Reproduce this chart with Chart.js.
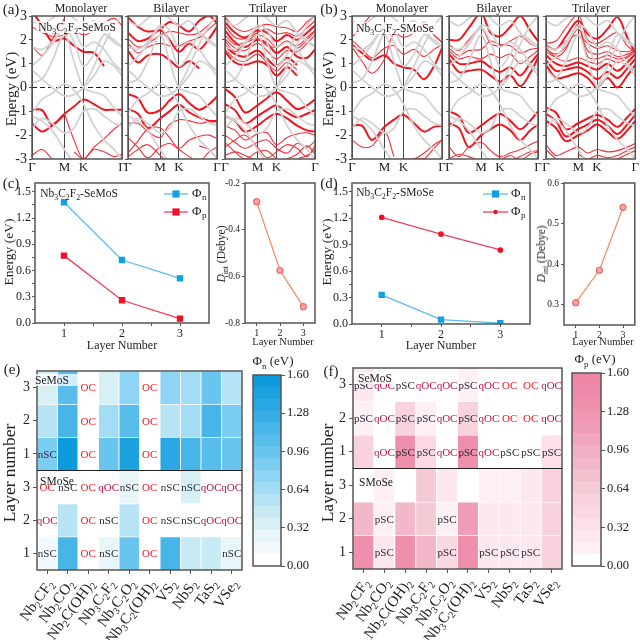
<!DOCTYPE html>
<html lang="en">
<head>
<script src="https://cdn.jsdelivr.net/npm/chart.js"></script>
<style>
  html, body { margin: 0; background: #fff; }
  #page { position: relative; width: 640px; height: 640px; overflow: hidden; font-family: 'Liberation Serif', serif; color: #222; }
  canvas { position: absolute; left: 0; top: 0; }
  .t { position: absolute; white-space: nowrap; transform: translate(-50%, -50%); z-index: 5; }
  .t sub { font-size: 68%; line-height: 0; }
</style>
</head>
<body>
<div id="page"></div>
<script>
// band path: Gamma, M, K, Gamma
const bandK = [0, 10, 20, 32.5, 42, 51.5, 62, 72, 82, 90];
const bandTicks = [0, 32.5, 51.5, 90];
const bandTickLabels = ['Γ', 'M', 'K', 'Γ'];
const energyTicks = [-3, -2, -1, 0, 1, 2, 3];

// substrate bands (grey), same in every band panel
const substrate = [
  [0.2, 0.35, 1.1, 2.2, 1.1, 0.0, -0.2, -0.35, -0.85, -1.2],
  [0.75, 0.35, 0.0, -0.35, -0.3, 0.0, 0.5, 1.1, 0.9, 0.5],
  [1.7, 1.6, 1.9, 2.6, 2.4, 1.7, 1.9, 1.6, 1.0, 0.7],
  [-1.1, -0.5, -0.25, 0.15, -0.1, -0.7, -1.6, -2.2, -2.6, -3],
  [2.8, 2.6, 2.9, 3.2, 2.9, 2.6, 2.8, 2.3, 1.9, 1.7],
  [-1.2, -1.4, -1.8, -2.6, -3.2, null, null, null, null, null],
  [0.9, 1.3, 1.8, 2.5, 1.9, 0.9, 1.4, 2.2, 2.0, 1.7],
  [-1.7, -1.3, -1.5, -1.9, -1.7, -1.0, -0.9, -1.2, -1.5, -1.6],
  [null, null, null, null, null, 0.0, 0.9, 1.8, 2.6, 3.0]
];

const a1Thick = [
  [3.2, 2.6, 1.95, 2.05, 1.75, 1.5, 1.45, 0.9, null, null],
  [-0.93, -0.95, -1.55, -1.1, -0.8, -0.5, -0.7, -0.93, -0.93, -0.93],
  [-1.5, -1.85, -1.6, -1.15, null, null, null, null, null, null]
];
const a1Thin = [
  [1.75, 1.35, 2.0, 2.9, null, null, null, null, null, null],
  [2.55, 2.3, 2.15, 2.2, 2.4, 2.2, 2.4, 2.7, 2.9, 2.6],
  [null, null, null, -1.1, -2.2, -3.0, -2.5, -2.15, -1.75, -1.5],
  [-2.85, -2.6, -3.0, null, null, null, null, null, null, null],
  [null, null, null, null, -2.7, -3.0, -2.6, -2.7, -2.9, -2.8]
];
const a2Thick = [
  [1.55, 1.05, 1.35, 1.4, 1.15, 0.85, 1.1, 0.8, null, null],
  [-0.28, -0.45, -1.05, -0.95, -0.55, -0.27, -0.65, -0.93, -0.7, -0.38],
  [-0.9, -1.1, -1.7, -1.3, -1.0, -0.72, -1.05, -1.25, -1.4, -1.4],
  [2.3, 1.95, 2.05, 2.4, 2.0, 1.5, 1.85, 1.6, 2.05, 2.55],
  [2.95, 2.55, 2.35, 2.45, 2.75, 2.6, 2.35, 2.8, 3.0, 2.7]
];
const a2Thin = [
  [1.85, 1.45, 1.7, 1.85, 1.75, 1.75, 1.95, 2.1, 2.45, 2.75],
  [2.05, 1.7, 1.85, 2.2, 2.35, 2.3, 2.2, 2.3, 2.65, 2.95],
  [-1.5, -1.5, -1.85, -2.1, -1.55, -1.35, -1.4, -1.5, -1.45, -1.45],
  [-2.75, -2.25, -1.75, -1.7, -2.1, -2.55, -2.2, -2.05, -2.0, -2.15],
  [-2.1, -2.5, -2.95, -2.5, -2.35, -2.6, -2.9, -3.1, -2.7, -2.5],
  [-2.9, -2.6, -2.4, -2.85, -3.2, null, null, -2.45, -2.6, -3.0]
];
const a3Thick = [
  [1.5, 1.05, 0.95, 1.1, 0.95, 0.5, 0.85, 0.5, null, null],
  [1.75, 1.4, 1.3, 1.55, 1.2, 0.9, 1.25, 0.95, null, null],
  [2.4, 1.9, 1.7, 2.0, 1.85, 1.45, 1.7, 1.3, 1.25, 1.6],
  [2.75, 2.3, 2.1, 2.4, 2.3, 1.95, 2.2, 2.0, 2.3, 2.6],
  [-0.05, -0.4, -1.05, -0.75, -0.45, -0.2, -0.55, -0.9, -0.75, -0.5],
  [-0.7, -0.95, -1.5, -1.2, -0.95, -0.75, -1.05, -1.25, -1.1, -0.95],
  [-1.2, -1.4, -1.85, -1.6, -1.3, -1.1, -1.3, -1.6, -1.8, -1.85]
];
const a3Thin = [
  [2.05, 1.65, 1.55, 1.85, 1.55, 1.2, 1.55, 1.5, 1.85, 2.2],
  [1.6, 1.2, 1.1, 1.4, 1.05, 0.7, 1.05, 0.75, null, null],
  [2.2, 1.8, 1.9, 2.2, 2.05, 1.7, 1.95, 1.65, 2.0, 2.35],
  [2.6, 2.1, 2.05, 2.3, 2.45, 2.25, 2.3, 2.15, 2.5, 2.8],
  [2.95, 2.5, 2.35, 2.55, 2.65, 2.55, 2.5, 2.35, 2.75, 3.0],
  [1.95, 1.5, 1.85, 2.05, 1.75, 1.7, 1.95, 1.75, 2.1, 2.4],
  [-1.6, -1.8, -2.2, -1.95, -1.9, -2.4, -2.1, -1.95, -1.9, -2.0],
  [-2.0, -2.3, -2.55, -2.3, -2.2, -2.55, -2.75, -2.35, -2.5, -2.25],
  [-2.5, -2.2, -2.0, -2.5, -2.95, -2.7, -2.4, -2.55, -2.9, -2.45],
  [-2.85, -2.7, -2.85, -3.1, null, null, -3.0, -2.8, -2.45, -2.8],
  [-2.3, -2.7, -3.0, -2.7, -2.65, -3.0, null, -3.0, -2.85, -2.6]
];
const b1Thick = [
  [1.8, 1.45, 1.15, 1.35, 1.0, 0.85, 0.75, 0.35, 0.9, 1.65],
  [-1.6, -1.6, -2.2, -1.65, -1.35, -1.15, -1.5, -1.85, -1.65, -1.6]
];
const b1Thin = [
  [2.0, 1.6, 1.25, 1.65, 1.75, 1.4, 1.6, 1.3, 1.6, 1.8],
  [1.7, 1.1, 0.6, 1.2, 2.3, 2.1, 2.3, 2.75, 2.2, 1.9],
  [-2.2, -2.5, -2.45, -1.85, -2.9, null, null, null, null, null],
  [null, null, null, null, null, -3.0, -3.0, -2.75, -2.4, -2.2],
  [null, null, null, null, null, -3.2, -3.0, -3.0, -2.55, -2.2],
  [2.1, 2.6, 3.1, null, null, null, null, null, 2.2, 1.9]
];
const b2Thick = [
  [1.2, 0.65, 0.7, 0.75, 0.5, 0.25, 0.5, 0.05, 0.6, 1.25],
  [1.4, 1.0, 1.0, 1.1, 0.85, 0.65, 0.85, 0.5, 1.0, 1.4],
  [-1.0, -1.2, -1.9, -1.6, -1.3, -1.1, -1.4, -1.75, -1.4, -1.0],
  [-1.5, -1.7, -2.5, -2.0, -1.75, -1.55, -1.8, -2.2, -1.8, -1.55],
  [2.0, 2.0, 2.5, 3.1, 2.3, 2.15, 2.55, 3.0, 2.4, 1.95]
];
const b2Thin = [
  [1.55, 1.2, 1.3, 1.2, 1.4, 1.25, 1.4, 1.0, 1.3, 1.55],
  [1.65, 1.35, 1.55, 1.6, 1.95, 1.8, 1.75, 1.45, 1.6, 1.65],
  [1.8, 1.55, 2.0, 2.5, 1.85, 1.75, 1.95, 2.15, 1.85, 1.7],
  [-2.5, -2.9, -2.5, -2.3, -2.65, -2.9, -2.75, -2.6, -2.4, -2.25],
  [-3.0, -2.8, -2.9, -3.1, null, null, -3.1, -2.9, -2.7, -2.65],
  [null, null, null, null, null, -3.05, -2.85, -3.05, -2.8, -2.7]
];
const b3Thick = [
  [0.95, 0.4, 0.45, 0.6, 0.4, 0.02, 0.4, 0.0, 0.5, 0.95],
  [1.15, 0.7, 0.75, 0.85, 0.65, 0.35, 0.65, 0.4, 0.8, 1.2],
  [1.35, 1.0, 0.9, 1.05, 0.9, 0.75, 1.0, 0.7, 1.05, 1.4],
  [-0.85, -1.05, -1.75, -1.5, -1.3, -1.15, -1.35, -1.65, -1.25, -0.9],
  [-1.1, -1.4, -2.05, -1.75, -1.55, -1.35, -1.6, -1.95, -1.55, -1.15],
  [-1.4, -1.7, -2.25, -2.0, -1.8, -1.55, -1.85, -2.15, -1.8, -1.4],
  [1.75, 1.6, 2.15, 2.8, 2.25, 2.05, 2.45, 2.95, 2.1, 1.45]
];
const b3Thin = [
  [1.5, 1.25, 1.1, 1.25, 1.1, 1.0, 1.2, 1.05, 1.25, 1.5],
  [1.6, 1.4, 1.7, 2.45, 1.55, 1.4, 1.5, 1.3, 1.4, 1.55],
  [1.7, 1.6, 1.95, 2.2, 1.85, 1.65, 1.75, 1.55, 1.5, 1.6],
  [1.85, 1.95, 2.5, 3.05, 2.0, 1.85, 2.1, 2.3, 1.75, 1.5],
  [1.65, 1.3, 1.6, 2.65, 1.3, 1.2, 1.35, 1.2, 1.3, 1.6],
  [-2.4, -2.85, -2.7, -2.5, -2.75, -2.6, -2.7, -2.65, -2.5, -2.35],
  [-2.6, -3.0, null, -2.8, -3.0, -2.85, -2.95, -2.85, -2.65, -2.5],
  [null, null, null, null, null, -3.05, -3.1, -3.0, -2.8, -2.65]
];

// work functions vs layer number
const layers = [1, 2, 3];
const layerMinor = [1, 1.5, 2, 2.5, 3];
const energyMinor = [0, 0.15, 0.3, 0.45, 0.6, 0.75, 0.9, 1.05, 1.2, 1.35, 1.5];
const cPhiN = [1.38, 0.72, 0.51];
const cPhiP = [0.77, 0.26, 0.05];
const cDint = [-0.28, -0.575, -0.73];
const dPhiN = [0.33, 0.05, 0.01];
const dPhiP = [1.21, 1.02, 0.84];
const dDint = [0.305, 0.385, 0.54];

// heat maps: columns are the substrates, digits get set as subscripts
const substrates = ['Nb2CF2', 'Nb2CO2', 'Nb2C(OH)2', 'Nb3C2F2', 'Nb3C2O2', 'Nb3C2(OH)2', 'VS2', 'NbS2', 'TaS2', 'VSe2'];
const layerTicks = ['1', '2', '3', '1', '2', '3'];
const colorTicks = [0, 0.32, 0.64, 0.96, 1.28, 1.6];
const colorSteps = [0.1, 0.1, 0.1, 0.1, 0.1, 0.1, 0.1, 0.1, 0.1, 0.1, 0.1, 0.1, 0.1, 0.1, 0.1, 0.1];
const blueRamp = ['#ffffff', '#f3fafd', '#e8f6fa', '#d8f0f5', '#c8eaf4', '#b6e4f5', '#a3dcf5', '#8fd4f4', '#7ccdf2', '#69c5ee', '#58bdeb', '#48b5e8', '#38aee5', '#2aa7e2', '#1ca1df', '#0f9bdb'];
const pinkRamp = ['#ffffff', '#fff0f6', '#fde8f0', '#fde0e8', '#fcd9e2', '#f8d2dc', '#f4cad5', '#f3c1ce', '#f2b8c9', '#f1afc3', '#f0a6bd', '#ef9db7', '#ef96b1', '#ee8fac', '#ee8aa9', '#ee86a6'];

// rows listed bottom to top: SMoSe 1,2,3 then SeMoS 1,2,3
const eValues = [
  [0.18, 1.15, null, 0.25, 0.95, null, 1.1, 0.48, 0.45, 0.3],
  [null, 0.6, null, null, 0.55, null, 0.08, 0.05, null, null],
  [null, 0.08, null, null, 0.28, null, 0.05, 0.35, null, null],
  [0.85, 1.5, null, 0.9, 1.45, null, 1.4, 1.2, 1.0, 0.9],
  [0.6, 1.2, null, 0.7, 1.0, null, 0.6, 0.7, 1.15, 0.8],
  [0.35, 1.0, null, 0.38, 0.78, null, 0.75, 0.7, 0.95, 0.6]
];
const eLabels = [
  ['nSC', '', 'OC', 'nSC', '', 'OC', '', '', '', 'nSC'],
  ['qOC', '', 'OC', 'nSC', '', 'OC', 'nSC', 'nSC', 'qOC', 'qOC'],
  ['OC', 'nSC', 'OC', 'qOC', 'nSC', 'OC', 'nSC', 'nSC', 'qOC', 'qOC'],
  ['nSC', '', 'OC', '', '', 'OC', '', '', '', ''],
  ['', '', 'OC', '', '', 'OC', '', '', '', ''],
  ['', '', 'OC', '', '', 'OC', '', '', '', '']
];
const fValues = [
  [1.3, 0.3, 1.35, 0.85, 0.45, 1.35, 0.3, 0.3, 0.3, 0.5],
  [0.85, 0.12, 0.85, 0.7, 0.12, 1.2, 0.2, 0.22, 0.3, 0.5],
  [0.08, 0.1, 0.08, 0.7, 0.2, null, 0.12, 0.18, 0.25, 0.55],
  [0.6, null, 1.4, 0.4, null, 1.4, null, null, null, 0.35],
  [0.15, null, 0.6, 0.1, null, 0.6, null, null, null, null],
  [0.25, null, null, null, null, 0.15, null, null, null, null]
];
const fLabels = [
  ['', 'pSC', '', '', 'pSC', '', 'pSC', 'pSC', 'pSC', ''],
  ['', 'pSC', '', '', 'pSC', '', '', '', '', ''],
  ['', '', '', '', '', '', '', '', '', ''],
  ['', 'qOC', 'pSC', 'pSC', 'qOC', 'pSC', 'qOC', 'pSC', 'pSC', 'pSC'],
  ['pSC', 'qOC', 'pSC', 'pSC', 'qOC', 'pSC', 'qOC', 'OC', 'OC', 'qOC'],
  ['pSC', 'qOC', 'pSC', 'qOC', 'qOC', 'pSC', 'qOC', 'OC', 'OC', 'qOC']
];

const page = document.getElementById('page');
const serif = 'Liberation Serif';
const axisColor = '#555';
const labelColors = { OC: '#f01522', qOC: '#b8124e', nSC: '#2a2a38', pSC: '#2a2a38' };

function addText(html, x, y, size, rot, extra) {
  const d = document.createElement('div');
  d.className = 't';
  d.innerHTML = html;
  d.style.left = x + 'px';
  d.style.top = y + 'px';
  d.style.fontSize = size + 'px';
  if (rot) d.style.transform = 'translate(-50%, -50%) rotate(' + rot + 'deg)';
  if (extra) d.style.cssText += extra;
  page.appendChild(d);
}

const framePlugin = {
  id: 'frame',
  afterDatasetsDraw(chart) {
    const a = chart.chartArea, c = chart.ctx;
    c.save();
    c.strokeStyle = axisColor;
    c.lineWidth = 1.5;
    c.strokeRect(a.left, a.top, a.width, a.height);
    c.restore();
  }
};

// canvas covering the page, padded so the plot area lands on box [l, t, r, b]
function newChart(box, yW, xH, yRight, config) {
  const cv = document.createElement('canvas');
  cv.width = 640; cv.height = 640;
  page.appendChild(cv);
  config.options = Object.assign({
    responsive: false, animation: false, events: [],
    layout: { padding: {
      left: yRight ? box[0] : box[0] - yW,
      right: yRight ? 640 - box[2] - yW : 640 - box[2],
      top: box[1],
      bottom: 640 - box[3] - xH
    } },
    plugins: { legend: { display: false }, tooltip: { enabled: false } }
  }, config.options);
  config.plugins = [framePlugin].concat(config.plugins || []);
  return new Chart(cv.getContext('2d'), config);
}

function toPoints(arr) { return arr.map((v, i) => ({ x: bandK[i], y: v })); }

function bandChart(box, showLabels, thick, thin) {
  const sets = [];
  substrate.forEach(b => sets.push({ data: toPoints(b), borderColor: '#d2d2d2', borderWidth: 1.8 }));
  thin.forEach(b => sets.push({ data: toPoints(b), borderColor: '#f4303a', borderWidth: 1.1 }));
  thick.forEach(b => sets.push({ data: toPoints(b), borderColor: '#f0141e', borderWidth: 2 }));
  sets.push({ data: toPoints(bandK.map(() => 0)), borderColor: '#222', borderWidth: 1, borderDash: [5, 3], tension: 0 });
  sets.forEach(s => { s.showLine = true; });
  newChart(box, 22, 16, false, {
    type: 'scatter',
    data: { datasets: sets },
    options: {
      elements: { point: { radius: 0 }, line: { tension: 0.35 } },
      scales: {
        x: {
          type: 'linear', min: 0, max: 90,
          afterBuildTicks: s => { s.ticks = bandTicks.map(v => ({ value: v })); },
          afterFit: s => { s.height = 16; },
          ticks: { autoSkip: false, padding: 1, color: '#222', font: { family: serif, size: 13 }, callback: (v, i) => bandTickLabels[i], maxRotation: 0 },
          grid: { color: '#444', lineWidth: 1, tickLength: 0 },
          border: { display: false }
        },
        y: {
          min: -3, max: 3,
          afterBuildTicks: s => { s.ticks = energyTicks.map(v => ({ value: v })); },
          afterFit: s => { s.width = 22; },
          ticks: { display: showLabels, padding: 2, color: '#222', font: { family: serif, size: 14 } },
          grid: { drawOnChartArea: false, color: axisColor, tickLength: 3 },
          border: { display: false }
        }
      }
    }
  });
}

function legendPlugin(ys, x0, x1, tx, names) {
  return {
    id: 'legendKeys',
    afterDatasetsDraw(chart) {
      const c = chart.ctx;
      chart.data.datasets.forEach((ds, i) => {
        c.save();
        c.strokeStyle = ds.borderColor;
        c.lineWidth = 1.3;
        c.beginPath(); c.moveTo(x0, ys[i]); c.lineTo(x1, ys[i]); c.stroke();
        c.fillStyle = ds.pointBackgroundColor;
        if (ds.pointStyle === 'rect') c.fillRect((x0 + x1) / 2 - ds.pointRadius, ys[i] - ds.pointRadius, ds.pointRadius * 2, ds.pointRadius * 2);
        else { c.beginPath(); c.arc((x0 + x1) / 2, ys[i], ds.pointRadius, 0, 7); c.fill(); }
        c.fillStyle = '#222';
        c.textBaseline = 'middle';
        c.font = '13px ' + serif;
        c.fillText('Φ', tx, ys[i]);
        c.font = '9px ' + serif;
        c.fillText(names[i], tx + 10, ys[i] + 4);
        c.restore();
      });
    }
  };
}

function workChart(box, phiN, phiP, pRadius, pStyle, legend) {
  newChart(box, 20, 14, false, {
    type: 'scatter',
    data: { datasets: [
      { data: layers.map((l, i) => ({ x: l, y: phiN[i] })), borderColor: '#5cbde9', pointBackgroundColor: '#12a0e2', pointBorderColor: '#12a0e2', pointStyle: 'rect', pointRadius: 3.6, showLine: true, borderWidth: 1.3 },
      { data: layers.map((l, i) => ({ x: l, y: phiP[i] })), borderColor: '#f0405a', pointBackgroundColor: '#ee1028', pointBorderColor: '#ee1028', pointStyle: pStyle, pointRadius: pRadius, showLine: true, borderWidth: 1.3 }
    ] },
    options: {
      scales: {
        x: {
          type: 'linear', min: 0.5, max: 3.5,
          afterBuildTicks: s => { s.ticks = layerMinor.map(v => ({ value: v })); },
          afterFit: s => { s.height = 14; },
          ticks: { padding: 1, autoSkip: false, color: '#222', font: { family: serif, size: 12 }, maxRotation: 0, callback: v => Number.isInteger(v) ? v : '' },
          grid: { drawOnChartArea: false, color: axisColor, tickLength: 3 },
          border: { display: false }
        },
        y: {
          min: 0, max: 1.6,
          afterBuildTicks: s => { s.ticks = energyMinor.map(v => ({ value: v })); },
          afterFit: s => { s.width = 20; },
          ticks: { padding: 1, autoSkip: false, color: '#222', font: { family: serif, size: 12 }, callback: (v, i) => i % 2 === 0 ? v.toFixed(1) : '' },
          grid: { drawOnChartArea: false, color: axisColor, tickLength: 3 },
          border: { display: false }
        }
      }
    },
    plugins: [legend]
  });
}

function dipoleChart(box, vals, yMin, yMax, yStep) {
  newChart(box, 20, 14, false, {
    type: 'scatter',
    data: { datasets: [{
      data: layers.map((l, i) => ({ x: l, y: vals[i] })),
      borderColor: '#f0885a', borderWidth: 1.2, showLine: true,
      pointBackgroundColor: '#f6a9a6', pointBorderColor: '#f0676a', pointBorderWidth: 1.2, pointRadius: 3
    }] },
    options: {
      scales: {
        x: {
          type: 'linear', min: 0.5, max: 3.5,
          afterFit: s => { s.height = 14; },
          ticks: { padding: 1, color: '#222', font: { family: serif, size: 10 }, maxRotation: 0, callback: v => Number.isInteger(v) ? v : '' },
          afterBuildTicks: s => { s.ticks = layers.map(v => ({ value: v })); },
          grid: { drawOnChartArea: false, color: axisColor, tickLength: 3 },
          border: { display: false }
        },
        y: {
          min: yMin, max: yMax,
          afterFit: s => { s.width = 20; },
          afterBuildTicks: s => { s.ticks = yStep.map(v => ({ value: v })); },
          ticks: { padding: 2, color: '#222', font: { family: serif, size: 9.5 }, callback: v => v.toFixed(1) },
          grid: { drawOnChartArea: false, color: axisColor, tickLength: 3 },
          border: { display: false }
        }
      }
    }
  });
}

function rampColor(ramp, v) {
  if (v === null) return '#ffffff';
  return ramp[Math.min(ramp.length - 1, Math.floor(v / 0.1))];
}

// writes a substrate name with its digits lowered, ending at the tick
function drawSubscripted(c, name, x, y) {
  const parts = name.split(/(\d)/).filter(s => s);
  const width = parts.reduce((w, p) => {
    c.font = (/\d/.test(p) ? 10 : 15) + 'px ' + serif;
    return w + c.measureText(p).width;
  }, 0);
  c.save();
  c.translate(x, y);
  c.rotate(-54 * Math.PI / 180);
  let pos = -width;
  parts.forEach(p => {
    const sub = /\d/.test(p);
    c.font = (sub ? 10 : 15) + 'px ' + serif;
    c.fillText(p, pos, sub ? 3 : 0);
    pos += c.measureText(p).width;
  });
  c.restore();
}

function heatChart(box, values, labels, ramp) {
  const cellText = {
    id: 'cellText',
    afterDatasetsDraw(chart) {
      const c = chart.ctx, xs = chart.scales.x, ys = chart.scales.y;
      c.save();
      c.strokeStyle = '#222';
      c.lineWidth = 1.2;
      c.beginPath(); c.moveTo(xs.left, ys.getPixelForValue(3)); c.lineTo(xs.right, ys.getPixelForValue(3)); c.stroke();
      c.font = '11px ' + serif;
      c.textAlign = 'center';
      c.textBaseline = 'middle';
      labels.forEach((row, r) => row.forEach((txt, i) => {
        if (!txt) return;
        c.fillStyle = labelColors[txt];
        c.fillText(txt, xs.getPixelForValue(i), ys.getPixelForValue(r + 0.5) + 1);
      }));
      c.textAlign = 'left';
      c.textBaseline = 'alphabetic';
      c.fillStyle = '#222';
      substrates.forEach((name, i) => drawSubscripted(c, name, xs.getPixelForValue(i) + 7, ys.bottom + 14));
      c.restore();
    }
  };
  newChart(box, 22, 6, false, {
    type: 'bar',
    data: {
      labels: substrates,
      datasets: values.map(row => ({
        data: row.map(() => 1),
        backgroundColor: row.map(v => rampColor(ramp, v)),
        borderColor: '#ffffff', borderWidth: 0.8,
        barPercentage: 1, categoryPercentage: 1
      }))
    },
    options: {
      scales: {
        x: {
          stacked: true,
          afterFit: s => { s.height = 6; },
          ticks: { display: false, autoSkip: false },
          grid: { offset: false, drawOnChartArea: false, color: axisColor, tickLength: 4 },
          border: { display: false }
        },
        y: {
          stacked: true, min: 0, max: 6,
          afterBuildTicks: s => { s.ticks = layerTicks.map((t, i) => ({ value: i + 0.5 })); },
          afterFit: s => { s.width = 22; },
          ticks: { padding: 3, color: '#222', font: { family: serif, size: 14 }, callback: (v, i) => layerTicks[i] },
          grid: { drawOnChartArea: false, color: axisColor, tickLength: 4 },
          border: { display: false }
        }
      }
    },
    plugins: [cellText]
  });
}

function colorBar(box, ramp) {
  newChart(box, 38, 0, true, {
    type: 'bar',
    data: {
      labels: [''],
      datasets: colorSteps.map((s, i) => ({ data: [s], backgroundColor: ramp[i], barPercentage: 1, categoryPercentage: 1 }))
    },
    options: {
      scales: {
        x: { stacked: true, display: false },
        y: {
          stacked: true, position: 'right', min: 0, max: 1.6,
          afterBuildTicks: s => { s.ticks = colorTicks.map(v => ({ value: v })); },
          afterFit: s => { s.width = 38; },
          ticks: { padding: 2, color: '#222', font: { family: serif, size: 12.5 }, callback: v => v.toFixed(2) },
          grid: { drawOnChartArea: false, color: axisColor, tickLength: 4 },
          border: { display: false }
        }
      }
    }
  });
}

// (a) and (b) band structures
bandChart([32, 16, 122, 159], true, a1Thick, a1Thin);
bandChart([128, 16, 217, 159], false, a2Thick, a2Thin);
bandChart([225, 16, 315, 159], false, a3Thick, a3Thin);
bandChart([352, 16, 442, 159], true, b1Thick, b1Thin);
bandChart([449, 16, 538, 159], false, b2Thick, b2Thin);
bandChart([546, 16, 636, 159], false, b3Thick, b3Thin);

// (c) and (d)
workChart([35, 183, 209, 323], cPhiN, cPhiP, 3.6, 'rect', legendPlugin([194, 212], 164, 188, 192, ['n', 'p']));
dipoleChart([245, 183, 315, 323], cDint, -0.8, -0.2, [-0.8, -0.6, -0.4, -0.2]);
workChart([352, 183, 530, 324], dPhiN, dPhiP, 2.2, 'circle', legendPlugin([194, 212], 483, 508, 511, ['n', 'p']));
dipoleChart([564, 183, 635, 325], dDint, 0.25, 0.6, [0.3, 0.4, 0.5, 0.6]);

// (e) and (f)
heatChart([37, 371, 242, 570], eValues, eLabels, blueRamp);
colorBar([253, 375, 281, 566], blueRamp);
heatChart([353, 368, 562, 569], fValues, fLabels, pinkRamp);
colorBar([572, 373, 601, 566], pinkRamp);

// panel letters, titles and axis names
[['(a)', 11, 9], ['(b)', 329, 9], ['(c)', 11, 183], ['(d)', 329, 183], ['(e)', 12, 369], ['(f)', 331, 371]].forEach(p => addText(p[0], p[1], p[2], 15));
[[81, 8], [171, 8], [268, 8], [402, 8], [494, 8], [591, 8]].forEach((p, i) => addText(['Monolayer', 'Bilayer', 'Trilayer'][i % 3], p[0], p[1], 12));
addText('Energy (eV)', 11, 89, 15, -90);
addText('Energy (eV)', 328, 89, 15, -90);
addText('Energy (eV)', 9, 252, 13.5, -90);
addText('Energy (eV)', 327, 252, 13.5, -90);
addText('Nb<sub>3</sub>C<sub>2</sub>F<sub>2</sub>-SeMoS', 77, 27, 11.5, 0, 'background:rgba(255,255,255,.8);padding:0 2px;');
addText('Nb<sub>3</sub>C<sub>2</sub>F<sub>2</sub>-SMoSe', 395, 28, 11.5, 0, 'background:rgba(255,255,255,.8);padding:0 2px;');
addText('Nb<sub>3</sub>C<sub>2</sub>F<sub>2</sub>-SeMoS', 79, 193, 11.5);
addText('Nb<sub>3</sub>C<sub>2</sub>F<sub>2</sub>-SMoSe', 395, 192, 11.5);
addText('<i>D</i><sub>int</sub> (Debye)', 221, 254, 11.5, -90);
addText('<i>D</i><sub>int</sub> (Debye)', 541, 254, 11.5, -90);
addText('Layer Number', 122, 345, 12);
addText('Layer Number', 283, 341, 10.5);
addText('Layer Number', 441, 345, 12);
addText('Layer Number', 603, 341, 10.5);
addText('Layer number', 9, 473, 17.5, -90);
addText('Layer number', 327, 473, 17.5, -90);
addText('Φ<sub>n</sub> (eV)', 273, 361, 13);
addText('Φ<sub>p</sub> (eV)', 595, 359, 13);
addText('SeMoS', 56, 380, 11.5, 0, 'background:rgba(255,255,255,.75);padding:0 11px 0 3px;');
addText('SMoSe', 57, 481, 11.5);
addText('SeMoS', 375, 378, 11.5, 0, 'background:rgba(255,255,255,.75);padding:0 4px;');
addText('SMoSe', 376, 482, 11.5);
</script>
</body>
</html>
